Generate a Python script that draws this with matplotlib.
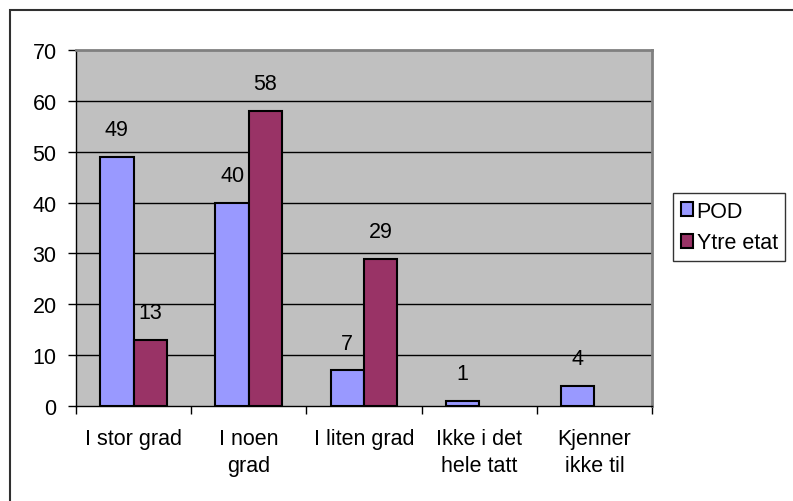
import matplotlib.pyplot as plt
import numpy as np
from matplotlib.patches import Patch, Rectangle

categories = ["I stor grad", "I noen\ngrad", "I liten grad", "Ikke i det\nhele tatt", "Kjenner\nikke til"]
pod = [49, 40, 7, 1, 4]
ytre_etat = [13, 58, 29, None, None]
series_names = ["POD", "Ytre etat"]
colors = ["#9999FF", "#993366"]
yticks = [0, 10, 20, 30, 40, 50, 60, 70]

plt.rcParams["font.family"] = ["Liberation Sans", "DejaVu Sans"]
FS = 15.5

W, H = 793, 502
fig = plt.figure(figsize=(W / 100, H / 100), dpi=100)

# outer chart frame (only top and left edges fall inside the image)
fig.patches.append(Rectangle((10 / W, -0.1), 1.2, 1.1 - 11 / H, transform=fig.transFigure,
                             fill=False, edgecolor="#303030", linewidth=1.5))

ax = fig.add_axes([76 / W, 1 - 407 / H, (652 - 76) / W, (407 - 51) / H])
ax.set_facecolor("#C0C0C0")

x = np.arange(len(categories))
width = 0.29
for i, (vals, name, col) in enumerate(zip([pod, ytre_etat], series_names, colors)):
    offset = (i - 0.5) * width
    for xi, v in zip(x, vals):
        if v is None:
            continue
        ax.bar(xi + offset, v, width, color=col, edgecolor="black", linewidth=1.5, zorder=3)
        ax.annotate(str(v), (xi + offset, v), xytext=(0, 12), textcoords="offset points",
                    ha="center", va="bottom", fontsize=FS, zorder=4)

ax.set_xlim(-0.5, len(categories) - 0.5)
ax.set_ylim(0, 70)
ax.set_yticks(yticks)
ax.set_yticklabels([str(t) for t in yticks], fontsize=FS)
for t in yticks[1:-1]:
    ax.axhline(t, color="black", linewidth=1, zorder=1)

ax.set_xticks(x)
ax.set_xticklabels(categories, fontsize=FS, linespacing=1.35)
ax.tick_params(axis="x", which="major", length=0, pad=16)
ax.set_xticks(np.arange(-0.5, len(categories)), minor=True)
ax.tick_params(axis="x", which="minor", length=6, width=1, direction="out")
ax.tick_params(axis="y", length=6, width=1, direction="out", pad=8)

ax.spines["left"].set_color("black")
ax.spines["bottom"].set_color("black")
ax.spines["left"].set_linewidth(1)
ax.spines["bottom"].set_linewidth(1)
for s in ["top", "right"]:
    ax.spines[s].set_color("#808080")
    ax.spines[s].set_linewidth(2)

handles = [Patch(facecolor=c, edgecolor="black", linewidth=1.5) for c in colors]
leg = fig.legend(handles, series_names, loc="upper left", bbox_to_anchor=(673 / W, 1 - 194 / H),
                 fontsize=FS, frameon=True, fancybox=False, handlelength=0.6, handleheight=0.6,
                 handletextpad=0.15, borderpad=0.35, labelspacing=0.5, borderaxespad=0)
leg.get_frame().set_edgecolor("black")
leg.get_frame().set_linewidth(1)

fig.savefig("out.png", dpi=100)
